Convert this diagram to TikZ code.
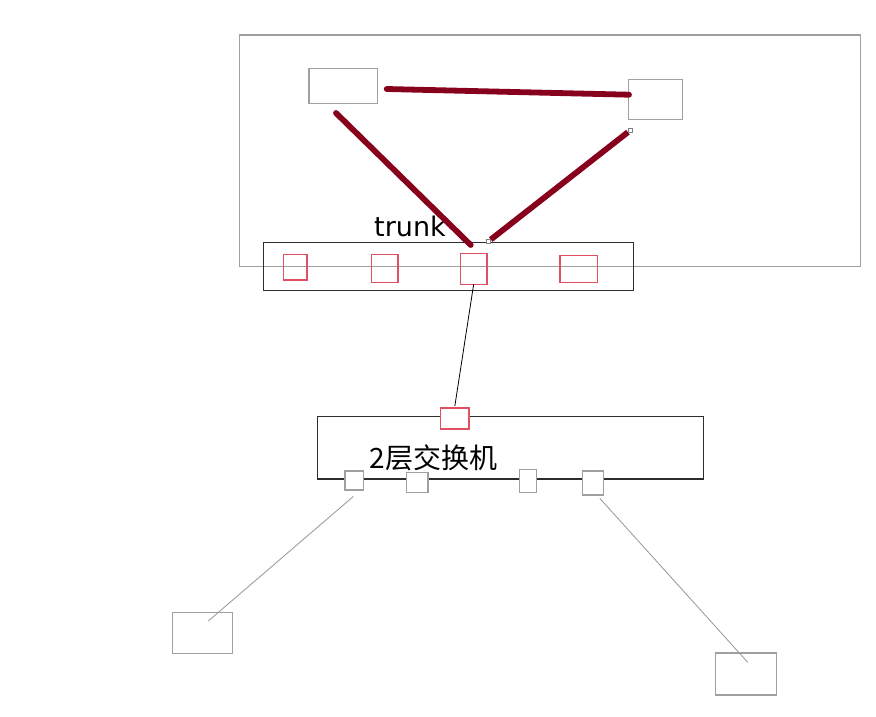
\documentclass[tikz,border=0pt]{standalone}
\usepackage{fontspec}
\setmainfont{DejaVu Sans}
\newfontfamily\cjkfont{Noto Sans CJK SC}
\definecolor{gbox}{RGB}{160,160,160}
\definecolor{bbox}{RGB}{45,45,45}
\definecolor{pbox}{RGB}{225,80,98}
\definecolor{thickred}{RGB}{135,0,28}
\definecolor{gline}{RGB}{150,150,150}
\begin{document}
\begin{tikzpicture}[x=1pt,y=-1pt,
  rbox/.style={draw, inner sep=0pt, outer sep=0pt, anchor=north west},
  graybox/.style={rbox, draw=gbox, line width=1.4pt},
  blackbox/.style={rbox, draw=bbox, line width=1.3pt},
  portbox/.style={rbox, draw=pbox, line width=1.3pt},
  grayport/.style={rbox, draw=gbox, line width=1.3pt, fill=white},
  endmark/.style={draw=gray, fill=white, line width=0.6pt, minimum size=4pt, inner sep=0pt, outer sep=0pt},
  redlink/.style={draw=thickred, line width=5.8pt, line cap=round},
  thinlink/.style={draw=gline, line width=0.8pt},
  blacklink/.style={draw=black, line width=0.8pt}]
\useasboundingbox (0,0) rectangle (876,716);
% frame
\node[graybox, minimum width=621pt, minimum height=231.7pt] (big) at (239.3,35) {};
% top boxes
\node[graybox, minimum width=68.7pt, minimum height=35.4pt] (tl) at (309,68.3) {};
\node[graybox, minimum width=54.4pt, minimum height=40pt] (tr) at (628.3,79.3) {};
% core switch
\node[blackbox, minimum width=369.6pt, minimum height=48pt] (sw1) at (263.7,242.7) {};
\node[portbox, minimum width=23.3pt, minimum height=25.7pt] (p1) at (283.7,254.3) {};
\node[portbox, minimum width=26.7pt, minimum height=28pt] (p2) at (371.3,254.3) {};
\node[portbox, minimum width=26.7pt, minimum height=31pt] (p3) at (460.3,253.3) {};
\node[portbox, minimum width=37.3pt, minimum height=26.6pt] (p4) at (560,255.7) {};
% layer-2 switch
\node[blackbox, minimum width=385.6pt, minimum height=62.7pt] (sw2) at (317.7,416.3) {};
\node[portbox, fill=white, minimum width=28.3pt, minimum height=21pt] (rt) at (440.7,408) {};
\node[grayport, minimum width=18.3pt, minimum height=19pt] (g1) at (345,471) {};
\node[grayport, minimum width=21.7pt, minimum height=20pt] (g2) at (406.3,472.3) {};
\node[grayport, minimum width=17pt, minimum height=23pt] (g3) at (519.3,469.3) {};
\node[grayport, minimum width=21pt, minimum height=24pt] (g4) at (582.7,471) {};
% hosts
\node[graybox, minimum width=60pt, minimum height=41pt] (bl) at (172.7,612.3) {};
\node[graybox, minimum width=60.6pt, minimum height=42pt] (br) at (715.7,653) {};
% labels
\node[anchor=base west, inner sep=0pt, font=\fontsize{27}{30}\selectfont] (trunk) at (374,236.7) {trunk};
\node[anchor=base west, inner sep=0pt, font=\cjkfont\fontsize{28}{32}\selectfont] (l2) at (369.3,468.3) {2层交换机};
% link end points
\coordinate (a1) at (386.7,89);
\coordinate (a2) at (629,94.7);
\coordinate (b1) at (336,113);
\coordinate (b2) at (470.7,245);
\coordinate (h1) at (353.4,496.4);
\coordinate (h2) at (208.3,621);
\coordinate (k1) at (599.8,498.3);
\coordinate (k2) at (747.7,662.3);
% thick red links
\draw[redlink] (a1) -- (a2);
\draw[redlink] (b1) -- (b2);
\node[endmark] (m1) at (630.7,130) {};
\node[endmark] (m2) at (488,241.7) {};
\draw[redlink, line cap=butt, shorten >=1pt, shorten <=1pt] (m1) -- (m2);
\node[endmark] at (m1) {};
\node[endmark] at (m2) {};
% uplink
\draw[blacklink] (p3.south) -- ([yshift=2pt]rt.north);
% host links
\draw[thinlink] (h1) -- (h2);
\draw[thinlink] (k1) -- (k2);
\end{tikzpicture}
\end{document}
